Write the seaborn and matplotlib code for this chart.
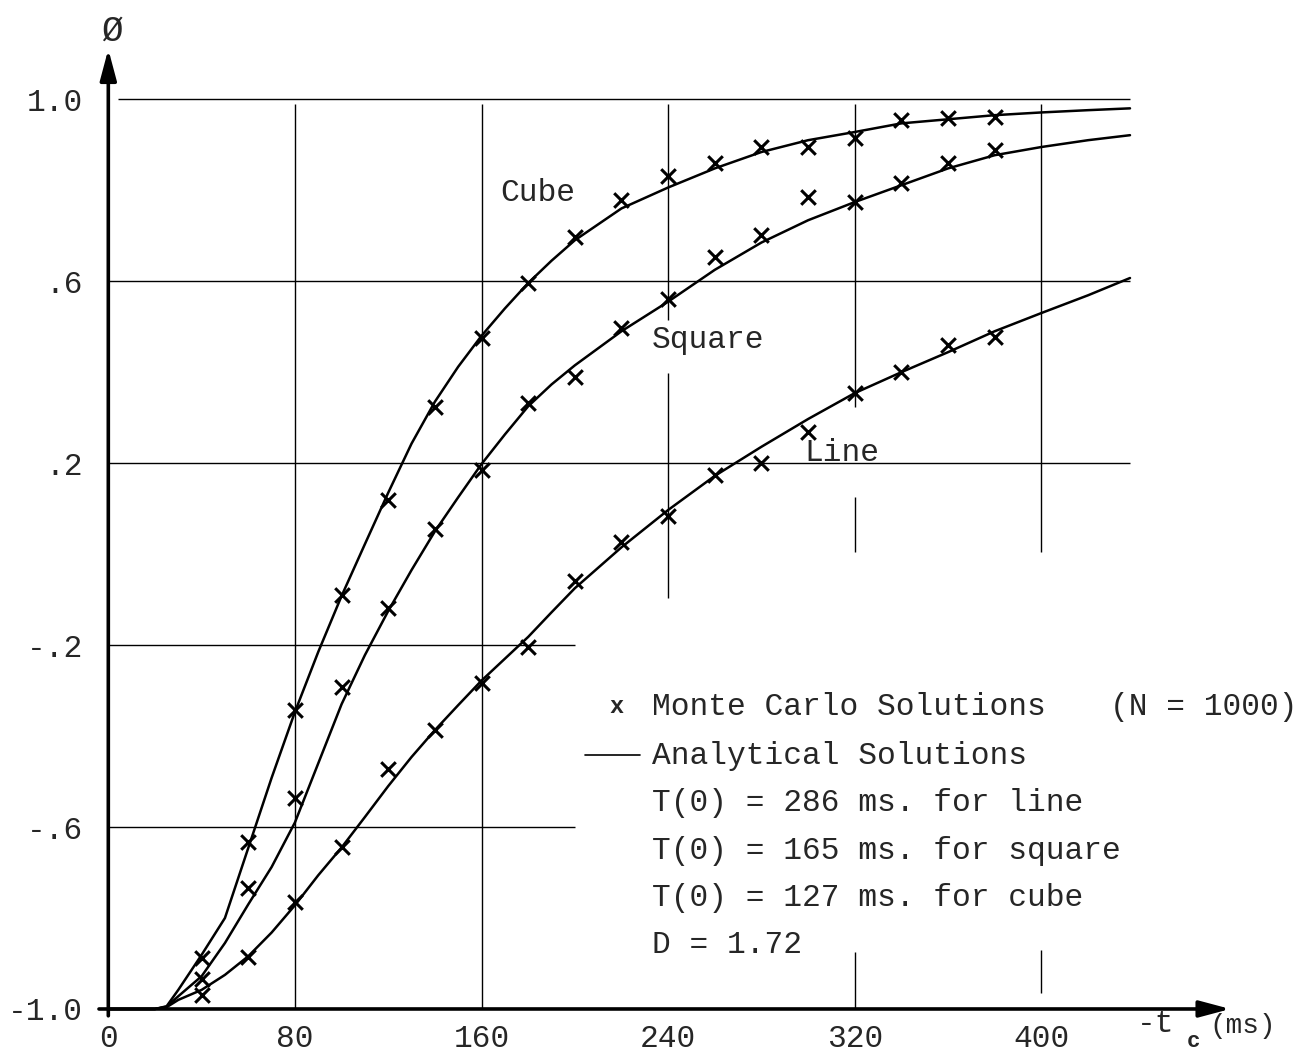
import pandas as pd
import matplotlib.pyplot as plt
import seaborn as sns

# %%
# Analytical solutions
curve_t = [0, 20, 25, 30, 40, 50, 60, 70, 80, 90,
           100, 110, 120, 130, 140, 150, 160, 170, 180, 190,
           200, 220, 240, 260, 280, 300, 320, 340, 360, 380,
           400, 420, 438]
cube_curve = [-1.0, -1.0, -0.994, -0.958, -0.881, -0.80, -0.646, -0.492, -0.347, -0.215,
              -0.092, 0.022, 0.135, 0.243, 0.335, 0.412, 0.48, 0.54, 0.596, 0.645,
              0.69, 0.76, 0.806, 0.848, 0.884, 0.910, 0.928, 0.947, 0.956, 0.965,
              0.971, 0.976, 0.980]
square_curve = [-1.0, -1.0, -0.995, -0.972, -0.928, -0.855, -0.770, -0.688, -0.590, -0.460,
                -0.330, -0.222, -0.125, -0.035, 0.05, 0.125, 0.198, 0.263, 0.325, 0.373,
                0.415, 0.49, 0.555, 0.625, 0.685, 0.734, 0.774, 0.811, 0.848, 0.877,
                0.895, 0.910, 0.921]
line_curve = [-1.0, -1.0, -0.996, -0.98, -0.958, -0.925, -0.884, -0.832, -0.772, -0.706,
              -0.645, -0.578, -0.510, -0.446, -0.387, -0.332, -0.278, -0.23, -0.182, -0.128,
              -0.075, 0.015, 0.097, 0.172, 0.236, 0.297, 0.354, 0.400, 0.444, 0.490,
              0.530, 0.569, 0.607]

# Monte Carlo solutions (N = 1000)
mc_t = [40, 60, 80, 100, 120, 140, 160, 180, 200, 220,
        240, 260, 280, 300, 320, 340, 360, 380]
cube_mc = [-0.888, -0.633, -0.343, -0.090, 0.119, 0.323, 0.475, 0.596, 0.697, 0.778,
           0.831, 0.859, 0.894, 0.896, 0.914, 0.954, 0.958, 0.960]
square_mc = [-0.934, -0.734, -0.536, -0.293, -0.119, 0.055, 0.185, 0.332, 0.389, 0.497,
             0.560, 0.653, 0.701, 0.785, 0.774, 0.815, 0.859, 0.888]
line_mc = [-0.969, -0.886, -0.765, -0.644, -0.473, -0.387, -0.284, -0.204, -0.059, 0.026,
           0.084, 0.174, 0.200, 0.268, 0.354, 0.400, 0.459, 0.477]

x_ticks = [0, 80, 160, 240, 320, 400]
x_tick_labels = ['0', '80', '160', '240', '320', '400']
y_ticks = [1.0, 0.6, 0.2, -0.2, -0.6, -1.0]
y_tick_labels = ['1.0', '.6', '.2', '-.2', '-.6', '-1.0']

legend_lines = ['Monte Carlo Solutions', 'Analytical Solutions',
                'T(0) = 286 ms. for line', 'T(0) = 165 ms. for square',
                'T(0) = 127 ms. for cube', 'D = 1.72']

# %%
curves = pd.DataFrame({
    't': curve_t * 3,
    'phi': cube_curve + square_curve + line_curve,
    'shape': ['cube'] * len(curve_t) + ['square'] * len(curve_t) + ['line'] * len(curve_t),
})
mc_points = pd.DataFrame({
    't': mc_t * 3,
    'phi': cube_mc + square_mc + line_mc,
    'shape': ['cube'] * len(mc_t) + ['square'] * len(mc_t) + ['line'] * len(mc_t),
})

sns.set_style('white')
plt.rcParams['font.family'] = ['Liberation Mono', 'DejaVu Sans Mono']
fs = 22.5

fig = plt.figure(figsize=(12.99, 10.56), dpi=100)
ax = fig.add_axes([0.0744, 0.0316, 0.8799, 0.9261])

# grid, drawn as broken segments like the original
grid_kw = dict(color='black', lw=1.0)
ax.hlines(1.0, 4, 438, **grid_kw)
ax.hlines([0.6, 0.2], 0, 438, **grid_kw)
ax.hlines([-0.2, -0.6], 0, 200, **grid_kw)
ax.vlines([80, 160], -1.0, 0.99, **grid_kw)
ax.vlines(240, 0.514, 0.99, **grid_kw)
ax.vlines(240, -0.097, 0.398, **grid_kw)
ax.vlines(320, 0.323, 0.99, **grid_kw)
ax.vlines(320, 0.004, 0.125, **grid_kw)
ax.vlines(320, -1.0, -0.875, **grid_kw)
ax.vlines(400, 0.004, 0.99, **grid_kw)
ax.vlines(400, -0.965, -0.87, **grid_kw)

sns.lineplot(data=curves, x='t', y='phi', units='shape', estimator=None,
             color='black', lw=1.8, sort=False, ax=ax)
sns.scatterplot(data=mc_points, x='t', y='phi', marker='x', s=110,
                color='black', linewidth=2.2, ax=ax, zorder=3)

# axes with arrows
arrow_kw = dict(arrowstyle='-|>,head_length=0.75,head_width=0.2', color='black',
                lw=2.6, mutation_scale=25, shrinkA=0, shrinkB=0)
ax.annotate('', xy=(0, 1.11), xytext=(0, -1.015), arrowprops=arrow_kw)
ax.annotate('', xy=(481, -1.0), xytext=(-4, -1.0), arrowprops=arrow_kw)

for s in ax.spines.values():
    s.set_visible(False)
ax.set_xlim(-5, 485)
ax.set_ylim(-1.03, 1.12)
ax.set_xticks(x_ticks)
ax.set_xticklabels(x_tick_labels, fontsize=fs)
ax.set_yticks(y_ticks)
ax.set_yticklabels(y_tick_labels, fontsize=fs)
ax.tick_params(axis='x', length=0, pad=1)
ax.tick_params(axis='y', length=0, pad=10)
ax.set_xlabel('')
ax.set_ylabel('')

# axis titles
ax.text(1.5, 1.15, 'Ø', fontsize=26, ha='center', va='center')
ax.text(441, -1.033, '-t', fontsize=fs, ha='left', va='center')
ax.text(465, -1.072, 'c', fontsize=16, fontweight='bold', ha='center', va='center')
ax.text(472, -1.038, '(ms)', fontsize=20, ha='left', va='center')

# curve labels
ax.text(168, 0.793, 'Cube', fontsize=fs, ha='left', va='center')
ax.text(233, 0.470, 'Square', fontsize=fs, ha='left', va='center')
ax.text(298.6, 0.222, 'Line', fontsize=fs, ha='left', va='center')

# legend block
legend_y = [-0.336, -0.444, -0.547, -0.653, -0.756, -0.859]
for txt, yy in zip(legend_lines, legend_y):
    ax.text(233, yy, txt, fontsize=fs, ha='left', va='center')
ax.text(429.4, -0.336, '(N = 1000)', fontsize=fs, ha='left', va='center')
ax.text(218, -0.336, 'x', fontsize=17, fontweight='bold', ha='center', va='center')
ax.plot([204.3, 227.9], [-0.442, -0.442], color='black', lw=1.2)

fig.savefig('out.png', dpi=100)
